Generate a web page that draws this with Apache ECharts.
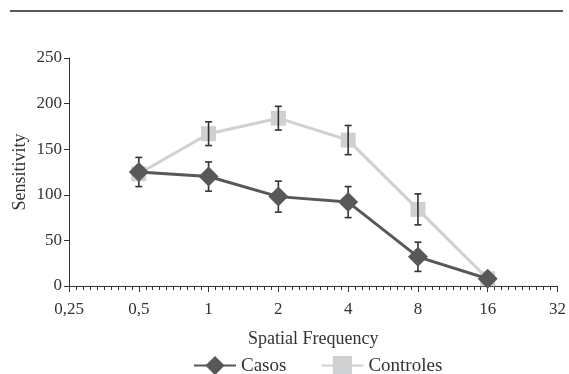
<!DOCTYPE html>
<html>
<head>
<meta charset="utf-8">
<script src="https://cdn.jsdelivr.net/npm/echarts@6/dist/echarts.min.js"></script>
<style>
  html, body { margin: 0; padding: 0; background: #fff; }
  #chart { width: 569px; height: 374px; }
</style>
</head>
<body>
<div id="chart"></div>
<script>
// Spatial frequencies (cycles/degree) and tick labels on a log2 axis
const freqs = [0.5, 1, 2, 4, 8, 16];
const tickLabels = ['0,25', '0,5', '1', '2', '4', '8', '16', '32'];

// Sensitivity means and error half-widths
const casos = [125, 120, 98, 92, 32, 8];
const casosErr = [16, 16, 17, 17, 16, 0];
const controles = [123, 167, 184, 160, 84, 8];
const controlesErr = [0, 13, 13, 16, 17, 0];

const fontFamily = '"Liberation Serif", "DejaVu Serif", serif';
const chart = echarts.init(document.getElementById('chart'));

// x positions in log2 units
const xs = freqs.map(f => Math.log2(f));

const errData = [];
xs.forEach((x, i) => {
  if (casosErr[i] > 0) errData.push([x, casos[i] - casosErr[i], casos[i] + casosErr[i]]);
  if (controlesErr[i] > 0) errData.push([x, controles[i] - controlesErr[i], controles[i] + controlesErr[i]]);
});

function renderErr(params, api) {
  const top = api.coord([api.value(0), api.value(2)]);
  const bot = api.coord([api.value(0), api.value(1)]);
  const w = 3.5;
  const style = { stroke: '#333', lineWidth: 1.6 };
  return {
    type: 'group',
    children: [
      { type: 'line', shape: { x1: top[0], y1: top[1], x2: bot[0], y2: bot[1] }, style },
      { type: 'line', shape: { x1: top[0] - w, y1: top[1], x2: top[0] + w, y2: top[1] }, style },
      { type: 'line', shape: { x1: bot[0] - w, y1: bot[1], x2: bot[0] + w, y2: bot[1] }, style }
    ]
  };
}

chart.setOption({
  animation: false,
  textStyle: { fontFamily },
  graphic: [{
    type: 'line',
    shape: { x1: 10, y1: 11, x2: 563, y2: 11 },
    style: { stroke: '#222', lineWidth: 1.5 }
  }],
  grid: { left: 69, right: 7, top: 58, bottom: 88 },
  legend: {
    top: 351,
    left: 188,
    itemWidth: 42,
    itemHeight: 24,
    itemGap: 34,
    textStyle: { fontFamily, fontSize: 19, color: '#333' },
    data: ['Casos', 'Controles']
  },
  xAxis: {
    type: 'value',
    min: -2,
    max: 5,
    interval: 1,
    name: 'Spatial Frequency',
    nameLocation: 'middle',
    nameGap: 44,
    nameMoveOverlap: false,
    nameTextStyle: { fontFamily, fontSize: 18, color: '#333' },
    axisLine: { lineStyle: { color: '#333', width: 1 } },
    axisTick: { show: true, length: 6, lineStyle: { color: '#333' } },
    minorTick: { show: true, splitNumber: 10, length: 4, lineStyle: { color: '#333' } },
    splitLine: { show: false },
    axisLabel: {
      fontFamily, fontSize: 17, color: '#333', margin: 15,
      formatter: v => tickLabels[Math.round(v) + 2]
    }
  },
  yAxis: {
    type: 'value',
    min: 0,
    max: 250,
    interval: 50,
    name: 'Sensitivity',
    nameLocation: 'middle',
    nameGap: 40,
    nameMoveOverlap: false,
    nameTextStyle: { fontFamily, fontSize: 18, color: '#333' },
    axisLine: { show: true, onZero: false, lineStyle: { color: '#333', width: 1 } },
    axisTick: { show: true, length: 5, lineStyle: { color: '#333' } },
    splitLine: { show: false },
    axisLabel: { fontFamily, fontSize: 17, color: '#333', margin: 7 }
  },
  series: [
    {
      name: 'Controles',
      type: 'line',
      data: xs.map((x, i) => [x, controles[i]]),
      symbol: 'rect',
      symbolSize: 15,
      color: '#cfd0d2',
      lineStyle: { color: '#cfd0d2', width: 3 },
      itemStyle: { color: '#cfd0d2' },
      z: 2
    },
    {
      type: 'custom',
      renderItem: renderErr,
      data: errData,
      encode: { x: 0, y: [1, 2] },
      z: 3,
      silent: true
    },
    {
      name: 'Casos',
      type: 'line',
      data: xs.map((x, i) => [x, casos[i]]),
      symbol: 'diamond',
      symbolSize: 20,
      color: '#58585a',
      lineStyle: { color: '#58585a', width: 3 },
      itemStyle: { color: '#58585a' },
      z: 4
    }
  ]
});
</script>
</body>
</html>
